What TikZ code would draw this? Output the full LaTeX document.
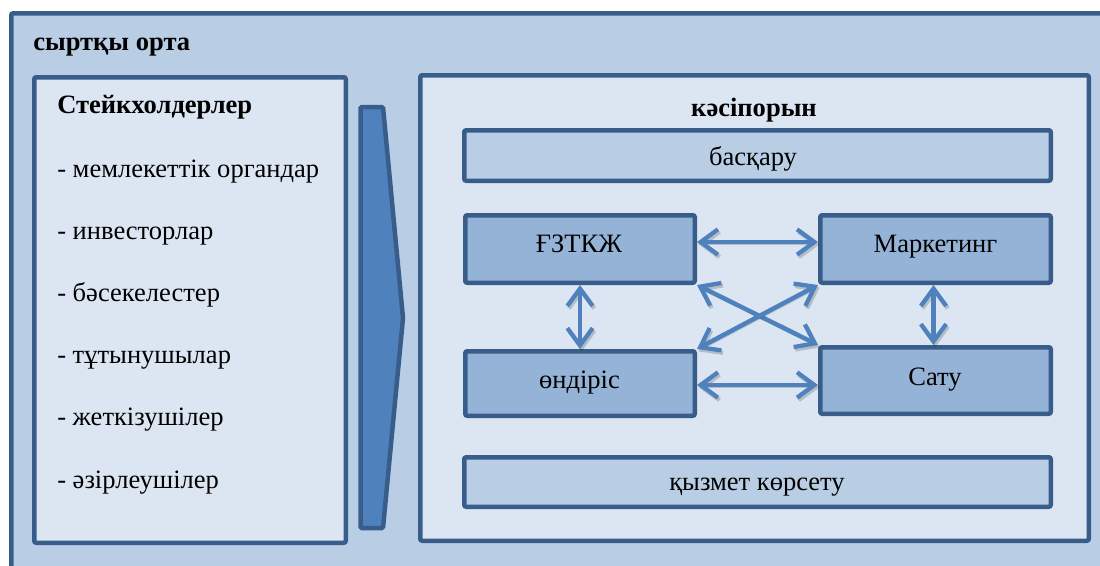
\documentclass[tikz,border=0pt]{standalone}
\usepackage{fontspec}
\setmainfont{Liberation Serif}
\usetikzlibrary{arrows.meta}

\definecolor{frameblue}{HTML}{385D8A}
\definecolor{envfill}{HTML}{B9CDE5}
\definecolor{panelfill}{HTML}{DCE6F2}
\definecolor{unitfill}{HTML}{95B3D7}
\definecolor{flowblue}{HTML}{4F81BD}

\tikzset{
  boxsize/.style 2 args={minimum width=#1*0.75pt, minimum height=#2*0.75pt},
  panel/.style={draw=frameblue, line width=3.375pt, rounded corners=1.5pt,
    inner sep=0pt, fill=panelfill},
  bar/.style={panel, fill=envfill},
  unit/.style={panel, fill=unitfill},
  txt/.style={inner sep=0pt, font=\fontsize{19.9pt}{23pt}\selectfont},
  head/.style={txt, font=\fontsize{19.9pt}{23pt}\selectfont\bfseries},
  barb/.tip={Straight Barb[length=13pt,width=19pt,line width=3.2pt]},
  link/.style={draw=flowblue, line width=3.4pt, barb-barb,
    preaction={draw=black, draw opacity=0.18,
      transform canvas={shift={(1.2pt,-1.8pt)}}}},
}

\begin{document}
\begin{tikzpicture}[x=0.75pt,y=-0.75pt]
  \useasboundingbox (0,0) rectangle (1100,565);
  \clip (0,0) rectangle (1100,565);

  % outer environment frame (runs past the right and bottom edges)
  \draw[draw=frameblue, line width=3.375pt, fill=envfill, rounded corners=1.5pt]
    (11.25,13.25) rectangle (1130,600);
  \node[head, anchor=base west] (env) at (33,50) {сыртқы орта};

  % stakeholders panel
  \node[panel, boxsize={311.5}{465.5}] (stake) at (190,310) {};
  \node[head, anchor=base west] (stakehead) at (57,113) {Стейкхолдерлер};
  \foreach \t [count=\i from 0] in {мемлекеттік органдар, инвесторлар,
      бәсекелестер, тұтынушылар, жеткізушілер, әзірлеушілер}
    \node[txt, anchor=base west] (item\i) at (57,177+62.2*\i) {- \t};

  % influence arrow
  \draw[draw=frameblue, line width=3.375pt, fill=flowblue, rounded corners=1pt]
    (360.5,107) -- (383,107) -- (403,318) -- (383,528) -- (360.5,528) -- cycle;

  % enterprise panel
  \node[panel, boxsize={668.5}{465.5}] (firm) at (754.5,308) {};
  \node[head, anchor=base] (firmhead) at (754,116) {кәсіпорын};

  \node[bar, boxsize={586.5}{50.5}] (mgmt) at (757.5,155.5) {};
  \node[txt, anchor=base] (mgmttxt) at (753,165) {басқару};

  \node[unit, boxsize={229.5}{67.5}] (rnd) at (580,249) {};
  \node[txt, anchor=base] (rndtxt) at (579,252) {ҒЗТКЖ};

  \node[unit, boxsize={230.5}{67.5}] (mkt) at (935.5,249) {};
  \node[txt, anchor=base] (mkttxt) at (935.5,252) {Маркетинг};

  \node[unit, boxsize={229.5}{64.5}] (prod) at (580,383.5) {};
  \node[txt, anchor=base] (prodtxt) at (579.5,388) {өндіріс};

  \node[unit, boxsize={230.5}{66.5}] (sales) at (935.5,380.5) {};
  \node[txt, anchor=base] (salestxt) at (935,385) {Сату};

  \node[bar, boxsize={586.5}{49.5}] (serv) at (757.5,482) {};
  \node[txt, anchor=base] (servtxt) at (757,490) {қызмет көрсету};

  % links between departments
  \draw[link] ([yshift=5.25pt]rnd.east) -- ([yshift=5.25pt]rnd.east -| mkt.west);
  \draw[link] ([yshift=-1.1pt]prod.east) -- ([yshift=-1.1pt]prod.east -| sales.west);
  \draw[link] (rnd.south) -- (prod.north);
  \draw[link] ([xshift=-1.5pt]mkt.south) -- ([xshift=-1.5pt]mkt.south |- sales.north);
  \draw[link] (rnd.south east) -- (sales.north west);
  \draw[link] (mkt.south west) -- (prod.north east);
\end{tikzpicture}
\end{document}
